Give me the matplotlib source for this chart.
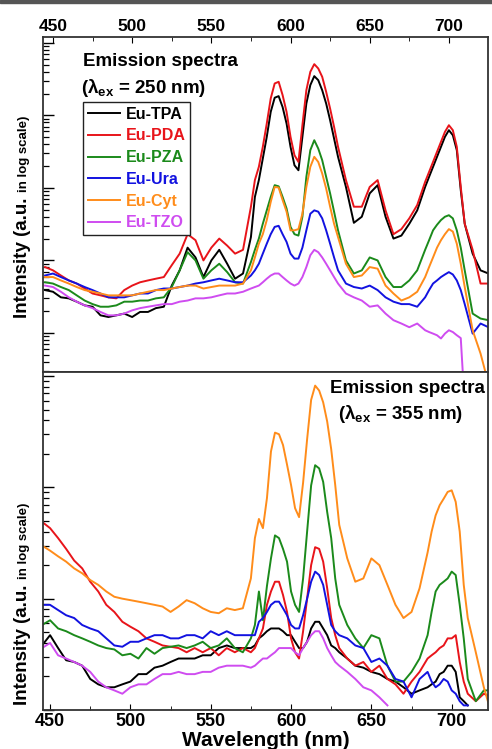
import numpy as np
import matplotlib
matplotlib.use('Agg')
from matplotlib import pyplot as plt
from matplotlib.ticker import LogLocator, MultipleLocator, NullFormatter
from matplotlib.patches import Rectangle

nan = np.nan

# wavelength samples (nm): 5 nm steps, 2.5 nm around the sharp Eu3+ bands
wl = np.concatenate([np.arange(445, 576, 5), np.arange(577.5, 631, 2.5),
                     np.arange(635, 686, 5), np.arange(687.5, 708, 2.5),
                     np.arange(710, 726, 5)])

# emission spectra, excitation 250 nm (a.u.)
tpa_250 = [3.9, 3.7, 3.1, 3.0, 2.7, 2.4, 2.3, 1.75, 1.66, 1.75, 1.85, 1.66, 1.95, 1.95, 2.2, 2.3,
           4.5, 7.3, 15, 11, 5.9, 10, 14, 9.0, 5.6, 6.6, 21,
           75, 128, 254, 505, 1117, 1750, 1840, 1300, 771, 368, 205,
           175, 505, 1455, 2610, 3470, 3055, 2220, 1455, 857, 479, 268,
           103, 33, 40, 84, 109, 40, 20, 22, 32, 49, 103,
           142, 195, 268, 368, 505, 624, 532, 331, 93,
           32, 12.4, 7.3, 6.6]
pda_250 = [8.1, 7.3, 6.2, 5.3, 4.8, 4.1, 3.5, 3.3, 3.1, 3.0, 3.9, 4.5, 5.0, 5.3, 5.6, 5.9,
           8.6, 12.4, 23, 19, 10, 15, 20, 16, 12.4, 14, 55,
           128, 195, 368, 771, 1710, 2750, 2900, 1900, 1117, 505, 282,
           228, 731, 2220, 3980, 5080, 4430, 3400, 2110, 1240, 694, 368,
           128, 55, 55, 103, 128, 49, 23, 27, 38, 58, 121,
           166, 228, 314, 431, 591, 731, 624, 368, 103,
           32, 14, 4.8, 4.8]
pza_250 = [5.0, 4.8, 4.3, 3.9, 3.3, 2.8, 2.5, 2.3, 2.3, 2.4, 2.7, 2.7, 2.8, 2.8, 3.0, 3.1,
           4.3, 7.3, 13, 10, 5.6, 7.3, 9.0, 6.9, 5.0, 4.8, 9.5,
           14, 20, 32, 49, 75, 109, 105, 75, 52, 29, 23,
           22, 40, 142, 331, 454, 349, 241, 142, 84, 47, 26,
           10, 6.6, 7.3, 11, 10, 5.9, 4.3, 4.3, 5.3, 7.3, 14,
           19, 26, 31, 36, 40, 42, 38, 26, 15,
           7.3, 1.85, 1.58, 1.5]
ura_250 = [6.2, 6.6, 5.9, 5.3, 4.8, 4.3, 3.9, 3.5, 3.1, 3.1, 3.1, 3.3, 3.5, 3.5, 3.9, 4.1,
           4.1, 4.3, 4.5, 4.8, 5.0, 5.3, 5.6, 5.3, 5.0, 5.0, 6.2,
           7.3, 9.0, 12.4, 17, 23, 29, 30, 23, 18, 12.4, 10.6,
           10.6, 15, 26, 44, 49, 47, 38, 26, 17, 11, 7.3,
           4.8, 4.3, 4.1, 4.5, 3.9, 3.1, 2.7, 2.5, 2.5, 2.3, 3.1,
           3.9, 4.8, 5.3, 5.9, 6.4, 6.9, 6.4, 5.3, 3.9,
           2.5, 0.98, 1.35, 1.2]
cyt_250 = [5.9, 5.9, 5.3, 4.8, 4.3, 3.9, 3.7, 3.5, 3.3, 3.3, 3.3, 3.3, 3.5, 3.7, 3.9, 3.9,
           4.1, 4.3, 4.5, 4.5, 4.1, 4.3, 4.5, 4.5, 4.5, 4.8, 7.3,
           11, 17, 23, 36, 64, 103, 101, 68, 47, 26, 26,
           27, 44, 103, 195, 268, 228, 158, 98, 55, 32, 21,
           9.0, 5.9, 6.2, 8.1, 7.7, 4.5, 3.5, 2.8, 3.1, 3.7, 5.9,
           8.1, 11, 15, 19, 23, 27, 25, 17, 9.0,
           4.3, 1.09, 0.52, 0.2]
tzo_250 = [4.5, 4.3, 3.7, 3.1, 2.7, 2.4, 2.2, 1.95, 1.75, 1.75, 1.85, 2.05, 2.2, 2.3, 2.4, 2.5,
           2.5, 2.7, 2.8, 3.0, 3.0, 3.1, 3.3, 3.5, 3.5, 3.7, 4.1,
           4.3, 4.5, 5.0, 5.6, 6.2, 6.6, 6.6, 5.9, 5.3, 4.8, 4.5,
           4.8, 5.9, 8.1, 11.8, 14, 13, 11, 9.0, 7.3, 5.9, 4.8,
           3.5, 3.1, 2.8, 2.3, 2.4, 1.85, 1.5, 1.35, 1.2, 1.35, 1.09,
           1.03, 0.98, 0.93, 0.84, 0.98, 1.09, 1.03, 0.93, 0.85,
           0.1, nan, nan, nan]

# emission spectra, excitation 355 nm (a.u.)
tpa_355 = [0.38, 0.47, 0.36, 0.28, 0.27, 0.25, 0.19, 0.17, 0.16, 0.16, 0.17, 0.18, 0.21, 0.21, 0.24, 0.25,
           0.27, 0.29, 0.29, 0.29, 0.31, 0.31, 0.36, 0.38, 0.36, 0.36, 0.36,
           0.38, 0.44, 0.47, 0.51, 0.54, 0.54, 0.54, 0.51, 0.47, 0.47, 0.41,
           0.36, 0.36, 0.41, 0.54, 0.62, 0.62, 0.54, 0.47, 0.38, 0.36, 0.33,
           0.29, 0.25, 0.24, 0.22, 0.21, 0.19, 0.18, 0.16, 0.14, 0.15, 0.16,
           0.17, 0.18, 0.21, 0.22, 0.25, 0.25, 0.22, 0.13, 0.12,
           0.11, nan, nan, nan]
pda_355 = [4.9, 4.3, 3.5, 2.8, 2.2, 1.87, 1.42, 1.16, 0.88, 0.76, 0.62, 0.56, 0.51, 0.44, 0.41, 0.38,
           0.37, 0.36, 0.33, 0.36, 0.33, 0.36, 0.31, 0.36, 0.33, 0.36, 0.33,
           0.36, 0.44, 0.54, 0.88, 1.16, 1.42, 1.42, 1.08, 0.76, 0.44, 0.33,
           0.29, 0.51, 1.0, 2.0, 2.9, 2.8, 2.15, 1.24, 0.67, 0.47, 0.36,
           0.29, 0.25, 0.27, 0.22, 0.25, 0.19, 0.17, 0.14, 0.18, 0.22, 0.29,
           0.31, 0.33, 0.36, 0.38, 0.44, 0.44, 0.47, 0.27, 0.18,
           0.14, 0.12, 0.14, 0.13]
pza_355 = [0.58, 0.64, 0.54, 0.51, 0.47, 0.44, 0.41, 0.38, 0.36, 0.35, 0.31, 0.32, 0.29, 0.36, 0.32, 0.36,
           0.37, 0.38, 0.36, 0.38, 0.41, 0.36, 0.38, 0.44, 0.36, 0.33, 0.44,
           0.58, 1.16, 0.64, 1.3, 2.3, 3.7, 3.5, 2.8, 2.15, 1.16, 0.88,
           0.76, 1.52, 4.0, 10.4, 15.8, 14.8, 11.2, 6.0, 3.5, 1.52, 0.88,
           0.58, 0.44, 0.36, 0.47, 0.44, 0.25, 0.18, 0.18, 0.22, 0.29, 0.47,
           0.76, 1.16, 1.33, 1.42, 1.52, 1.75, 1.63, 0.88, 0.44,
           0.19, 0.12, 0.15, 0.15]
ura_355 = [0.88, 0.88, 0.79, 0.71, 0.67, 0.58, 0.54, 0.51, 0.44, 0.38, 0.37, 0.41, 0.41, 0.44, 0.47, 0.47,
           0.44, 0.44, 0.47, 0.47, 0.44, 0.51, 0.47, 0.51, 0.47, 0.47, 0.47,
           0.47, 0.62, 0.67, 0.76, 0.88, 0.94, 0.94, 0.82, 0.71, 0.58, 0.54,
           0.54, 0.71, 1.0, 1.42, 1.75, 1.63, 1.33, 0.88, 0.58, 0.51, 0.47,
           0.44, 0.38, 0.36, 0.27, 0.29, 0.25, 0.19, 0.18, 0.13, 0.19, 0.22,
           0.18, 0.16, 0.17, 0.19, 0.18, 0.15, 0.14, 0.12, 0.11,
           0.11, nan, nan, nan]
cyt_355 = [3.0, 2.7, 2.4, 2.15, 1.87, 1.69, 1.47, 1.33, 1.16, 1.04, 1.0, 0.97, 0.94, 0.91, 0.88, 0.85,
           0.76, 0.85, 0.97, 0.91, 0.82, 0.76, 0.74, 0.82, 0.79, 0.82, 1.52,
           3.5, 5.2, 4.3, 8.0, 21, 31, 30, 24, 16, 10.5, 6.5,
           5.4, 11, 27, 61, 82, 74, 58, 39, 22, 10.5, 4.6,
           2.3, 1.42, 1.52, 2.3, 2.0, 1.33, 0.88, 0.67, 0.76, 1.24, 2.6,
           4.0, 5.6, 6.9, 7.9, 9.1, 9.4, 7.4, 4.0, 1.33,
           0.67, 0.33, 0.16, 0.09]
tzo_355 = [0.36, 0.40, 0.31, 0.29, 0.27, 0.25, 0.22, 0.18, 0.16, 0.15, 0.14, 0.16, 0.17, 0.17, 0.19, 0.21,
           0.21, 0.22, 0.21, 0.21, 0.22, 0.22, 0.24, 0.25, 0.25, 0.25, 0.24,
           0.25, 0.27, 0.29, 0.29, 0.31, 0.33, 0.36, 0.36, 0.36, 0.36, 0.33,
           0.31, 0.36, 0.41, 0.47, 0.51, 0.51, 0.44, 0.36, 0.31, 0.27, 0.25,
           0.22, 0.19, 0.16, 0.15, 0.13, 0.11, nan, nan, nan, nan, nan,
           nan, nan, nan, nan, nan, nan, nan, nan, nan,
           nan, nan, nan, nan]

names = ['Eu-TPA', 'Eu-PDA', 'Eu-PZA', 'Eu-Ura', 'Eu-Cyt', 'Eu-TZO']
colors = ['#000000', '#e8141a', '#1b8a1b', '#1212e0', '#ff8c1a', '#cf4cf0']
top_series = [tpa_250, pda_250, pza_250, ura_250, cyt_250, tzo_250]
bot_series = [tpa_355, pda_355, pza_355, ura_355, cyt_355, tzo_355]

plt.rcParams['font.family'] = ['Liberation Sans', 'DejaVu Sans']
plt.rcParams['font.weight'] = 'bold'
plt.rcParams['mathtext.fontset'] = 'custom'
plt.rcParams['mathtext.bf'] = 'Liberation Sans:bold'
plt.rcParams['mathtext.rm'] = 'Liberation Sans'

W, H = 492, 749
fig = plt.figure(figsize=(W / 100, H / 100), dpi=100)

# gray strip at the very top
fig.patches.append(Rectangle((0, 1 - 3 / H), 1, 3 / H, transform=fig.transFigure,
                             color='#555555', zorder=0))

def px_axes(x0, y0, x1, y1):
    return fig.add_axes([x0 / W, 1 - y1 / H, (x1 - x0) / W, (y1 - y0) / H])

ax1 = px_axes(43, 37, 488, 372)
ax2 = px_axes(43, 372, 488, 710)

for s, c, n in zip(top_series, colors, names):
    ax1.plot(wl, s, color=c, lw=1.4, label=n)
for s, c in zip(bot_series, colors):
    ax2.plot(wl, s, color=c, lw=1.4)

ax1.set_xlim(443.7, 724.7)
ax2.set_xlim(445.6, 722.6)
ax1.set_ylim(10 ** -0.538, 10 ** 4.08)
ax2.set_ylim(10 ** -1.0, 10 ** 2.036)

for ax in (ax1, ax2):
    ax.set_yscale('log')
    ax.yaxis.set_major_locator(LogLocator(base=10, numticks=20))
    ax.yaxis.set_minor_locator(LogLocator(base=10, subs=np.arange(2, 10), numticks=20))
    ax.yaxis.set_major_formatter(NullFormatter())
    ax.yaxis.set_minor_formatter(NullFormatter())
    ax.xaxis.set_major_locator(MultipleLocator(50))
    ax.xaxis.set_minor_locator(MultipleLocator(25))
    ax.tick_params(axis='y', which='major', direction='in', length=8, width=1.0, left=True, right=False)
    ax.tick_params(axis='y', which='minor', direction='in', length=4.5, width=0.9, left=True, right=False)
    for sp in ax.spines.values():
        sp.set_color('#333333')
        sp.set_linewidth(1.3)

ax1.tick_params(axis='x', which='both', direction='in', top=True, bottom=False,
                labeltop=True, labelbottom=False, labelsize=12.5, pad=2)
ax1.tick_params(axis='x', which='major', length=4.5)
ax1.tick_params(axis='x', which='minor', length=3)
ax2.tick_params(axis='x', which='both', direction='in', top=False, bottom=True,
                labelsize=13, pad=2)
ax2.tick_params(axis='x', which='major', length=4.5)
ax2.tick_params(axis='x', which='minor', length=3)
ax2.set_xlabel('Wavelength (nm)', fontsize=15, fontweight='bold', labelpad=1)

leg = ax1.legend(loc='upper left', bbox_to_anchor=(0.09, 0.806), borderaxespad=0,
                 frameon=True, fancybox=False, edgecolor='#222222', framealpha=1,
                 handlelength=2.0, handletextpad=0.35, labelspacing=0.42,
                 borderpad=0.3, labelcolor='linecolor',
                 prop={'weight': 'bold', 'size': 11.5})
leg.get_frame().set_linewidth(1.0)

ax1.text(83 / W, 1 - 66 / H, 'Emission spectra', transform=fig.transFigure,
         fontsize=13.5, fontweight='bold', ha='left', va='baseline')
ax1.text(81 / W, 1 - 93 / H, r'($\mathrm{λ}_{\mathbf{ex}}$ = 250 nm)', transform=fig.transFigure,
         fontsize=13.5, fontweight='bold', ha='left', va='baseline')
ax2.text(330 / W, 1 - 393 / H, 'Emission spectra', transform=fig.transFigure,
         fontsize=13.5, fontweight='bold', ha='left', va='baseline')
ax2.text(338 / W, 1 - 419 / H, r'($\mathrm{λ}_{\mathbf{ex}}$ = 355 nm)', transform=fig.transFigure,
         fontsize=13.5, fontweight='bold', ha='left', va='baseline')

# y labels with a smaller "in log scale" part
fig.canvas.draw()
for y_start in (318, 705):
    t = fig.text(27 / W, 1 - y_start / H, 'Intensity (a.u. ', rotation=90,
                 rotation_mode='anchor', ha='left', va='baseline',
                 fontsize=13.5, fontweight='bold')
    fig.canvas.draw()
    bb = t.get_window_extent()
    fig.text(27 / W, bb.y1 / H, 'in log scale)', rotation=90,
             rotation_mode='anchor', ha='left', va='baseline',
             fontsize=9.5, fontweight='bold')

fig.savefig('out.png', dpi=100)
